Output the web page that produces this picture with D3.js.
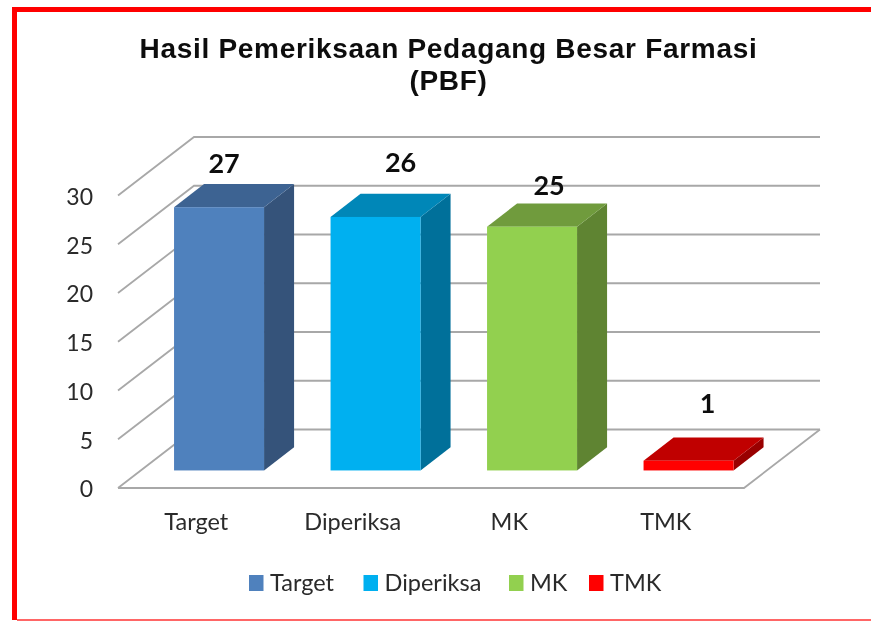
<!DOCTYPE html>
<html>
<head>
<meta charset="utf-8">
<script src="https://cdn.jsdelivr.net/npm/d3@7"></script>
<style>
html, body { margin: 0; padding: 0; background: #fff; overflow: hidden; }
.lbl { font-family: Lato, sans-serif; fill: #2b2b2b; }
</style>
</head>
<body>
<script>
var categories = ['Target', 'Diperiksa', 'MK', 'TMK'];
var values = [27, 26, 25, 1];
var yTicks = [0, 5, 10, 15, 20, 25, 30];
var titleLines = ['Hasil Pemeriksaan Pedagang Besar Farmasi', '(PBF)'];
var frontColors = ['#4f81bd', '#00b0f0', '#92d050', '#ff0000'];
var topColors = ['#3e6492', '#0087b8', '#6f9b3d', '#c00000'];
var sideColors = ['#34527a', '#006f9a', '#5f8432', '#990000'];

var width = 871, height = 621;
var depthX = 76, depthY = -58.5;      // floor depth, front edge to back wall
var barStart = 0.3, barDepth = 0.395; // as a share of floor depth
var barWidth = 90;
var labelGap = [-11, -22, -9, -25];   // the value labels were moved by hand in the original
var labelShift = [-10, 10, 2, 4];

var svg = d3.select('body').append('svg')
	.attr('width', width)
	.attr('height', height)
	.style('display', 'block');

svg.append('defs').append('filter').attr('id', 'soft')
	.append('feGaussianBlur').attr('stdDeviation', 0.5);

var root = svg.append('g').attr('filter', 'url(#soft)');

// frame: left and top are heavy, the bottom is only a thin line
root.append('rect').attr('x', 12).attr('y', 7).attr('width', 5).attr('height', 613).attr('fill', '#ff0000');
root.append('rect').attr('x', 12).attr('y', 7).attr('width', 859).attr('height', 5).attr('fill', '#ff0000');
root.append('rect').attr('x', 17).attr('y', 619).attr('width', 854).attr('height', 2).attr('fill', '#ff6666');

root.append('g').selectAll('text')
	.data(titleLines)
	.enter()
	.append('text')
	.attr('x', 448.5)
	.attr('y', function(d, i) { return 58 + i * 32; })
	.attr('text-anchor', 'middle')
	.attr('font-family', '"Liberation Sans", sans-serif')
	.attr('font-weight', 'bold')
	.attr('font-size', 28)
	.attr('letter-spacing', 0.7)
	.attr('fill', '#111')
	.text(function(d) { return d; });

var x = d3.scaleBand().domain(categories).range([118, 744]);
var y = d3.scaleLinear().domain([0, 30]).range([488, 195.5]);

// walls and floor
var grid = root.append('g').attr('fill', 'none').attr('stroke', '#a8a8a8').attr('stroke-width', 1.8);
grid.selectAll('path')
	.data(yTicks)
	.enter()
	.append('path')
	.attr('d', function(d) {
		var p = d3.path();
		p.moveTo(x.range()[0], y(d));
		p.lineTo(x.range()[0] + depthX, y(d) + depthY);
		p.lineTo(x.range()[1] + depthX, y(d) + depthY);
		return p.toString();
	});

var floor = d3.path();
floor.moveTo(x.range()[0], y(0));
floor.lineTo(x.range()[1], y(0));
floor.lineTo(x.range()[1] + depthX, y(0) + depthY);
grid.append('path').attr('d', floor.toString());

function poly(points) {
	return d3.line()(points) + 'Z';
}

var bars = root.append('g').selectAll('g')
	.data(categories)
	.enter()
	.append('g');

function barBox(d, i) {
	var left = x(d) + x.bandwidth() / 2 - barWidth / 2 + depthX * barStart;
	var base = y(0) + depthY * barStart;
	var h = y(0) - y(values[i]);
	return {
		l: left, r: left + barWidth, b: base, t: base - h,
		dx: depthX * barDepth, dy: depthY * barDepth
	};
}

bars.append('path')
	.attr('fill', function(d, i) { return sideColors[i]; })
	.attr('d', function(d, i) {
		var b = barBox(d, i);
		return poly([[b.r, b.b], [b.r + b.dx, b.b + b.dy], [b.r + b.dx, b.t + b.dy], [b.r, b.t]]);
	});
bars.append('path')
	.attr('fill', function(d, i) { return topColors[i]; })
	.attr('d', function(d, i) {
		var b = barBox(d, i);
		return poly([[b.l, b.t], [b.r, b.t], [b.r + b.dx, b.t + b.dy], [b.l + b.dx, b.t + b.dy]]);
	});
bars.append('rect')
	.attr('fill', function(d, i) { return frontColors[i]; })
	.attr('x', function(d, i) { return barBox(d, i).l; })
	.attr('y', function(d, i) { return barBox(d, i).t; })
	.attr('width', barWidth)
	.attr('height', function(d, i) { return y(0) - y(values[i]); });

bars.append('text')
	.attr('x', function(d, i) { var b = barBox(d, i); return (b.l + b.r + b.dx) / 2 + labelShift[i]; })
	.attr('y', function(d, i) { var b = barBox(d, i); return b.t + b.dy + labelGap[i]; })
	.attr('text-anchor', 'middle')
	.attr('font-family', 'Lato, sans-serif')
	.attr('font-weight', 'bold')
	.attr('font-size', 27)
	.attr('fill', '#111')
	.text(function(d, i) { return values[i]; });

// axes, only the labels are kept
var yAxis = root.append('g')
	.attr('transform', 'translate(100,1.5)')
	.call(d3.axisLeft(y).tickValues(yTicks).tickSize(0).tickPadding(7));
var xAxis = root.append('g')
	.attr('transform', 'translate(0,513)')
	.call(d3.axisBottom(x).tickSize(0).tickPadding(0));
yAxis.select('.domain').remove();
xAxis.select('.domain').remove();
yAxis.selectAll('text').attr('class', 'lbl').style('font-size', '23px');
xAxis.selectAll('text').attr('class', 'lbl').style('font-size', '23.5px');

// legend
var legendX = [249, 363.5, 509, 589];
var legend = root.append('g').selectAll('g')
	.data(categories)
	.enter()
	.append('g')
	.attr('transform', function(d, i) { return 'translate(' + legendX[i] + ',575)'; });
legend.append('rect')
	.attr('width', 14.5)
	.attr('height', 16)
	.attr('fill', function(d, i) { return frontColors[i]; });
legend.append('text')
	.attr('class', 'lbl')
	.attr('x', 21)
	.attr('y', 15.5)
	.attr('font-size', 23.5)
	.text(function(d) { return d; });
</script>
</body>
</html>
